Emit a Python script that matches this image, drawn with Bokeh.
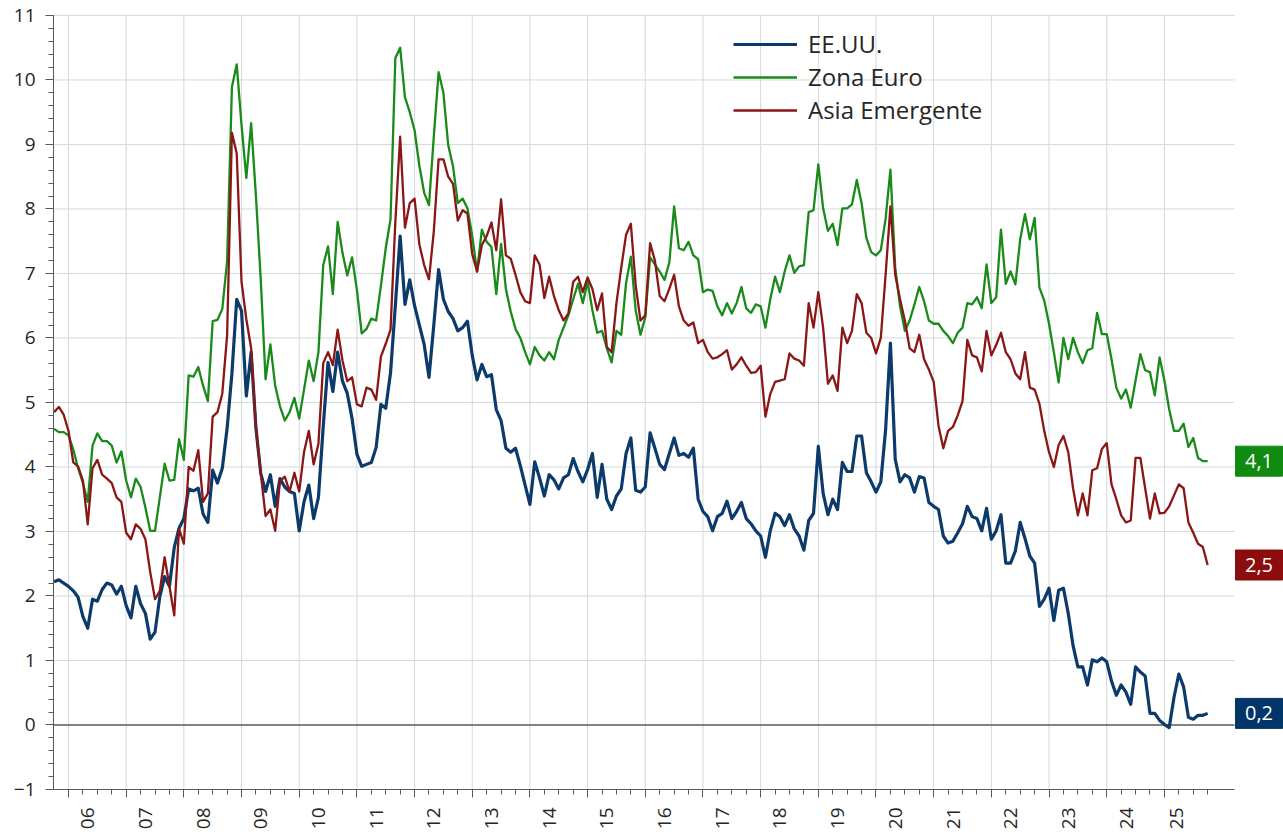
import math
from bokeh.plotting import figure
from bokeh.models import Range1d, FixedTicker, SingleIntervalTicker, LinearAxis
from bokeh.core.properties import value
from bokeh.embed import file_html
from bokeh.resources import INLINE

# ---------------- data (monthly, Oct 2005 - Oct 2025) ----------------
start_year, start_month = 2005, 10

usa = [
    2.22, 2.25, 2.20,
    2.15, 2.08, 1.98, 1.68, 1.50, 1.95, 1.92, 2.10, 2.20, 2.17, 2.03, 2.15,
    1.85, 1.66, 2.15, 1.88, 1.73, 1.33, 1.44, 1.99, 2.30, 2.15, 2.75, 3.05,
    3.20, 3.66, 3.63, 3.67, 3.27, 3.14, 3.95, 3.75, 3.98, 4.60, 5.45, 6.60,
    6.42, 5.10, 5.78, 4.60, 3.90, 3.62, 3.88, 3.39, 3.82, 3.69, 3.62, 3.59,
    3.01, 3.46, 3.72, 3.20, 3.53, 4.63, 5.62, 5.17, 5.78, 5.33, 5.14, 4.75,
    4.20, 4.01, 4.04, 4.07, 4.30, 4.97, 4.91, 5.46, 6.50, 7.58, 6.52, 6.90,
    6.50, 6.20, 5.90, 5.39, 6.20, 7.06, 6.60, 6.41, 6.30, 6.11, 6.16, 6.26,
    5.73, 5.35, 5.59, 5.40, 5.43, 4.89, 4.72, 4.29, 4.23, 4.29, 4.02, 3.72,
    3.42, 4.08, 3.83, 3.55, 3.88, 3.80, 3.66, 3.83, 3.88, 4.13, 3.93, 3.77,
    3.96, 4.21, 3.53, 4.04, 3.50, 3.34, 3.55, 3.66, 4.21, 4.45, 3.64, 3.61,
    3.69, 4.53, 4.29, 4.04, 3.96, 4.21, 4.45, 4.18, 4.21, 4.15, 4.29, 3.50,
    3.31, 3.23, 3.01, 3.23, 3.28, 3.47, 3.20, 3.31, 3.45, 3.20, 3.12, 3.01,
    2.93, 2.60, 3.01, 3.28, 3.23, 3.09, 3.26, 3.04, 2.93, 2.71, 3.17, 3.28,
    4.32, 3.59, 3.26, 3.50, 3.34, 4.07, 3.93, 3.93, 4.48, 4.48, 3.91, 3.77,
    3.61, 3.77, 4.58, 5.92, 4.12, 3.77, 3.88, 3.83, 3.61, 3.85, 3.83, 3.45,
    3.39, 3.34, 2.93, 2.82, 2.85, 2.98, 3.12, 3.39, 3.23, 3.20, 3.01, 3.36,
    2.88, 3.01, 3.26, 2.51, 2.51, 2.70, 3.14, 2.89, 2.62, 2.51, 1.84, 1.95,
    2.12, 1.62, 2.09, 2.12, 1.73, 1.23, 0.90, 0.90, 0.62, 1.01, 0.98, 1.04,
    0.98, 0.68, 0.46, 0.62, 0.51, 0.32, 0.90, 0.82, 0.76, 0.18, 0.18, 0.07,
    0.01, -0.04, 0.43, 0.79, 0.59, 0.12, 0.09, 0.15, 0.15, 0.18,
]

euro = [
    4.59, 4.54, 4.54,
    4.49, 4.27, 3.98, 3.75, 3.46, 4.33, 4.52, 4.40, 4.40, 4.33, 4.07, 4.24,
    3.79, 3.53, 3.82, 3.69, 3.37, 3.01, 3.01, 3.53, 4.05, 3.79, 3.80, 4.43,
    4.11, 5.42, 5.40, 5.55, 5.26, 5.02, 6.26, 6.28, 6.45, 7.19, 9.89, 10.24,
    9.30, 8.48, 9.33, 8.20, 6.90, 5.36, 5.90, 5.26, 4.94, 4.72, 4.85, 5.07,
    4.75, 5.20, 5.65, 5.33, 5.78, 7.13, 7.42, 6.68, 7.80, 7.32, 6.97, 7.25,
    6.75, 6.07, 6.14, 6.30, 6.27, 6.81, 7.39, 7.84, 10.34, 10.50, 9.73, 9.50,
    9.22, 8.67, 8.25, 8.06, 9.12, 10.12, 9.80, 8.99, 8.66, 8.09, 8.16, 8.01,
    7.58, 7.03, 7.68, 7.49, 7.41, 6.68, 7.46, 6.76, 6.41, 6.14, 6.00, 5.78,
    5.59, 5.86, 5.73, 5.65, 5.78, 5.67, 5.97, 6.16, 6.35, 6.60, 6.84, 6.54,
    6.87, 6.43, 6.08, 6.11, 5.84, 5.62, 6.11, 6.05, 6.85, 7.26, 6.43, 6.05,
    6.32, 7.25, 7.14, 7.03, 6.90, 7.17, 8.04, 7.39, 7.36, 7.49, 7.28, 7.22,
    6.71, 6.75, 6.73, 6.49, 6.35, 6.54, 6.38, 6.54, 6.79, 6.46, 6.39, 6.52,
    6.49, 6.16, 6.60, 6.95, 6.71, 7.03, 7.28, 7.01, 7.11, 7.13, 7.95, 7.98,
    8.69, 8.01, 7.66, 7.77, 7.44, 8.01, 8.01, 8.07, 8.45, 8.09, 7.55, 7.33,
    7.28, 7.36, 7.85, 8.61, 7.09, 6.49, 6.11, 6.27, 6.52, 6.79, 6.57, 6.27,
    6.22, 6.22, 6.11, 6.03, 5.92, 6.08, 6.16, 6.54, 6.52, 6.63, 6.46, 7.14,
    6.54, 6.63, 7.68, 6.84, 7.03, 6.83, 7.53, 7.92, 7.53, 7.86, 6.78, 6.58,
    6.22, 5.78, 5.31, 6.00, 5.67, 6.00, 5.78, 5.61, 5.81, 5.84, 6.39, 6.06,
    6.06, 5.67, 5.23, 5.06, 5.20, 4.92, 5.34, 5.75, 5.50, 5.47, 5.11, 5.70,
    5.34, 4.89, 4.56, 4.56, 4.67, 4.31, 4.45, 4.14, 4.09, 4.09,
]

asia = [
    4.85, 4.93, 4.81,
    4.56, 4.07, 4.01, 3.79, 3.11, 3.98, 4.11, 3.88, 3.82, 3.75, 3.53, 3.46,
    2.98, 2.88, 3.11, 3.04, 2.88, 2.37, 1.95, 2.08, 2.60, 2.15, 1.70, 3.04,
    2.81, 4.00, 3.94, 4.26, 3.46, 3.59, 4.78, 4.85, 5.14, 6.04, 9.18, 8.86,
    6.87, 6.29, 5.84, 4.60, 3.90, 3.24, 3.34, 3.01, 3.78, 3.85, 3.62, 3.91,
    3.62, 4.23, 4.56, 4.04, 4.36, 5.61, 5.78, 5.58, 6.13, 5.65, 5.33, 5.39,
    4.97, 4.94, 5.23, 5.20, 5.04, 5.71, 5.91, 6.13, 7.80, 9.12, 7.71, 8.09,
    8.16, 7.45, 7.13, 6.91, 7.65, 8.77, 8.77, 8.50, 8.39, 7.82, 7.98, 7.93,
    7.30, 7.03, 7.44, 7.58, 7.79, 7.36, 8.15, 7.28, 7.23, 6.98, 6.71, 6.57,
    6.54, 7.28, 7.14, 6.62, 6.95, 6.65, 6.43, 6.27, 6.38, 6.87, 6.95, 6.71,
    6.94, 6.76, 6.43, 6.69, 5.86, 5.78, 6.54, 7.09, 7.60, 7.77, 6.82, 6.27,
    6.35, 7.47, 7.20, 6.65, 6.57, 6.76, 6.98, 6.49, 6.27, 6.19, 6.24, 5.92,
    5.97, 5.78, 5.68, 5.70, 5.75, 5.81, 5.51, 5.59, 5.70, 5.57, 5.46, 5.47,
    5.57, 4.78, 5.13, 5.32, 5.34, 5.36, 5.76, 5.68, 5.65, 5.57, 6.54, 6.16,
    6.71, 6.16, 5.29, 5.42, 5.18, 6.16, 5.92, 6.11, 6.68, 6.54, 6.08, 6.00,
    5.76, 6.00, 6.98, 8.04, 6.98, 6.60, 6.27, 5.84, 5.78, 6.05, 5.67, 5.51,
    5.32, 4.64, 4.29, 4.56, 4.62, 4.80, 5.02, 5.97, 5.73, 5.70, 5.48, 6.11,
    5.73, 5.89, 6.08, 5.78, 5.67, 5.45, 5.36, 5.78, 5.23, 5.20, 4.98, 4.56,
    4.23, 4.00, 4.34, 4.48, 4.23, 3.67, 3.25, 3.59, 3.25, 3.95, 3.98, 4.28,
    4.37, 3.73, 3.50, 3.25, 3.14, 3.17, 4.14, 4.14, 3.67, 3.20, 3.59, 3.28,
    3.29, 3.39, 3.56, 3.73, 3.67, 3.14, 2.98, 2.81, 2.76, 2.48,
]

series_names = ["EE.UU.", "Zona Euro", "Asia Emergente"]
series_colors = ["#0c3a6b", "#1a8a1a", "#8b1616"]
box_colors = ["#003669", "#108a10", "#8b0d0d"]
line_widths = [3.2, 2.3, 2.3]

years = list(range(2006, 2026))
year_labels = ["%02d" % (y % 100) for y in years]
label_pos = [y + 0.335 for y in years[:-1]] + [2025.21]
y_levels = list(range(-1, 12))

dates = [start_year + (start_month - 1 + i) / 12.0 for i in range(len(usa))]

FONT = "Open Sans"
TXT = "#262626"
AXC = "#595959"
GRID = "#d3d9db"

PX_PER_UNIT = 64.5          # vertical scale (pixels per percentage point)
x0 = 2005.74                # left edge of the plot area
x_axis_end = 2026.215       # where axis and horizontal grid stop
x_end = 2027.065            # canvas edge (room for the value boxes)
box_x = 2026.64
y_axis_min, y_axis_max = -1, 11
y_top = 11.03
y_bottom = y_axis_min - 48 / PX_PER_UNIT     # room below the axis for the year labels
y_label = y_axis_min - 18 / PX_PER_UNIT

p = figure(width=1283, height=837, x_range=Range1d(x0, x_end), y_range=Range1d(y_bottom, y_top),
           output_backend="svg", toolbar_location=None,
           min_border_left=53, min_border_right=0, min_border_top=13, min_border_bottom=0)
p.outline_line_color = None
p.background_fill_color = "white"

# ---- x axis: line + quarter ticks, pinned at y = -1
quarters = [y + q / 4.0 for y in range(2006, 2026) for q in (1, 2, 3)]
ax1 = p.xaxis[0]
ax1.fixed_location = y_axis_min
ax1.ticker = FixedTicker(ticks=[], minor_ticks=quarters)
ax1.bounds = (x0, x_axis_end)
ax1.axis_line_color = AXC
ax1.minor_tick_line_color = AXC
ax1.major_tick_line_color = None
ax1.major_tick_out = 0
ax1.major_tick_in = 0
ax1.minor_tick_out = 5
ax1.minor_tick_in = 0
ax1.major_label_standoff = 0

# ---- x axis: yearly ticks, pinned at y = -1
ax3 = LinearAxis(ticker=FixedTicker(ticks=[], minor_ticks=years), fixed_location=y_axis_min)
ax3.axis_line_color = None
ax3.major_tick_line_color = None
ax3.major_tick_out = 0
ax3.major_tick_in = 0
ax3.minor_tick_line_color = AXC
ax3.minor_tick_out = 8
ax3.minor_tick_in = 0
ax3.major_label_standoff = 0
p.add_layout(ax3, "below")

# ---- year labels (rotated, reading upward)
p.text(x=label_pos, y=[y_label] * len(label_pos), text=year_labels, angle=math.pi / 2,
       text_align="right", text_baseline="middle", text_color=TXT,
       text_font=value(FONT), text_font_size="19px")

# ---- y axis
p.yaxis.ticker = SingleIntervalTicker(interval=1, num_minor_ticks=5)
p.yaxis.bounds = (y_axis_min, y_axis_max)
p.yaxis.axis_line_color = AXC
p.yaxis.major_tick_line_color = AXC
p.yaxis.minor_tick_line_color = AXC
p.yaxis.major_tick_out = 8
p.yaxis.major_tick_in = 0
p.yaxis.minor_tick_out = 5
p.yaxis.minor_tick_in = 0
p.yaxis.major_label_standoff = 10
p.yaxis.major_label_text_font = FONT
p.yaxis.major_label_text_font_size = "19px"
p.yaxis.major_label_text_color = TXT

# ---- grid
p.xgrid.grid_line_color = None
p.ygrid.grid_line_color = None
p.segment(x0=years, y0=[y_axis_min] * len(years), x1=years, y1=[y_axis_max] * len(years),
          line_color=GRID, line_width=1, level="underlay")
hl = [v for v in y_levels if v not in (-1, 0)]
p.segment(x0=[x0] * len(hl), y0=hl, x1=[x_axis_end] * len(hl), y1=hl,
          line_color=GRID, line_width=1, level="underlay")
p.segment(x0=[x0], y0=[0], x1=[x_axis_end], y1=[0], line_color=AXC, line_width=1.5)

# ---- lines
for vals, name, col, lw in zip([usa, euro, asia], series_names, series_colors, line_widths):
    p.line(dates, vals, line_color=col, line_width=lw, legend_label=name, line_join="round")

# ---- legend (placed relative to the frame's bottom-left corner)
lg = p.legend[0]
lg.location = (680, 663 + 48)
lg.background_fill_alpha = 0
lg.border_line_color = None
lg.padding = 0
lg.margin = 0
lg.spacing = 0
lg.glyph_width = 64
lg.glyph_height = 30
lg.label_height = 30
lg.label_standoff = 11
lg.label_text_font = FONT
lg.label_text_font_size = "24px"
lg.label_text_color = TXT

# ---- last-value boxes
last_vals = [usa[-1], euro[-1], asia[-1]]
last_txt = [("%.1f" % v).replace(".", ",") for v in last_vals]
p.rect(x=[box_x] * 3, y=last_vals, width=47, height=30, width_units="screen",
       height_units="screen", fill_color=box_colors, line_color=box_colors)
p.text(x=[box_x] * 3, y=last_vals, text=last_txt, text_align="center",
       text_baseline="middle", text_color="white", text_font=value(FONT),
       text_font_size="20px")

open("out.html", "w").write(file_html(p, INLINE))
